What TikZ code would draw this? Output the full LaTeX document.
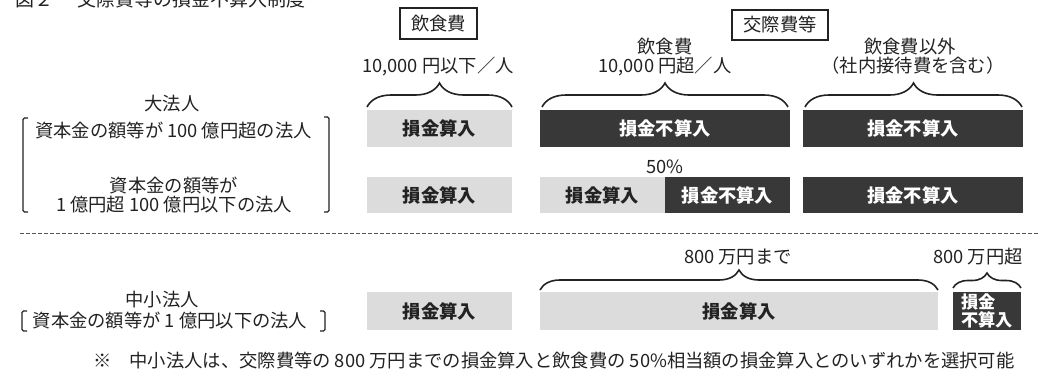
\documentclass[tikz,border=0pt]{standalone}
\usepackage{fontspec}
\setmainfont{Noto Sans CJK JP}
\usetikzlibrary{decorations.pathreplacing}
\definecolor{ink}{HTML}{222222}
\definecolor{lightfill}{HTML}{DCDCDC}
\definecolor{darkfill}{HTML}{383838}
\definecolor{dashgray}{HTML}{555555}
\newcommand{\jpsz}[1]{\fontsize{#1}{#1}\selectfont}
\begin{document}
\begin{tikzpicture}[x=1pt,y=-1pt,
  every node/.style={inner sep=0pt,outer sep=0pt,text=ink,font=\jpsz{18.3}},
  hdrbox/.style={draw=ink,line width=1.2pt},
  cell/.style={font=\jpsz{18.3}\bfseries},
  lightcell/.style={cell,fill=lightfill,text=ink},
  darkcell/.style={cell,fill=darkfill,text=white},
  curly/.style={decorate,decoration={brace,amplitude=#1},line width=1.6pt,draw=ink},
  bracketline/.style={draw=ink,line width=1.3pt,rounded corners=1.5pt},
  sepline/.style={draw=dashgray,line width=0.9pt,dash pattern=on 3.5pt off 2.5pt}]

\useasboundingbox (0,0) rectangle (1044,380);

% title
\node[anchor=base west,font=\jpsz{19}] (fig) at (15,6) {図２};
\node[anchor=base west,font=\jpsz{19}] (title) at (77,6) {交際費等の損金不算入制度};

% header boxes
\node[hdrbox,minimum width=77pt,minimum height=31pt] (h1) at (438.5,23.5) {飲食費};
\node[hdrbox,minimum width=96pt,minimum height=30pt] (h2) at (780,25) {交際費等};

% column labels
\node (c1) at (438,66) {10,000 円以下／人};
\node (c2a) at (665,47) {飲食費};
\node (c2b) at (665,66) {10,000 円超／人};
\node (c3a) at (910,47) {飲食費以外};
\node (c3b) at (913,66) {（社内接待費を含む）};

% row 1
\node[lightcell,minimum width=145pt,minimum height=37pt] (r1a) at (439.5,128.5) {損金算入};
\node[darkcell,minimum width=250pt,minimum height=37pt] (r1b) at (665,128.5) {損金不算入};
\node[darkcell,minimum width=220pt,minimum height=37pt] (r1c) at (913,128.5) {損金不算入};

% row 2
\node[lightcell,minimum width=145pt,minimum height=36pt] (r2a) at (439.5,195) {損金算入};
\node[lightcell,minimum width=125pt,minimum height=36pt] (r2b) at (602.5,195) {損金算入};
\node[darkcell,minimum width=125pt,minimum height=36pt] (r2c) at (727.5,195) {損金不算入};
\node[darkcell,minimum width=220pt,minimum height=36pt] (r2d) at (913,195) {損金不算入};
\node (pct) at (665,167) {50\%};

% row 3
\node[lightcell,minimum width=145pt,minimum height=38pt] (r3a) at (439.5,311) {損金算入};
\node[lightcell,minimum width=398pt,minimum height=38pt] (r3b) at (739,311) {損金算入};
\node[darkcell,minimum width=68pt,minimum height=38pt,font=\jpsz{17.2}\bfseries,align=left] (r3c) at (987,311) {損金\\不算入};
\node (lim1) at (738,257) {800 万円まで};
\node (lim2) at (978,257) {800 万円超};

% braces
\draw[curly=24] ([yshift=3pt]r1a.north west) -- ([yshift=3pt]r1a.north east);
\draw[curly=24] ([xshift=2pt,yshift=3pt]r1b.north west) -- ([xshift=-2pt,yshift=3pt]r1b.north east);
\draw[curly=24] ([xshift=2pt,yshift=3pt]r1c.north west) -- ([xshift=-1pt,yshift=3pt]r1c.north east);
\draw[curly=20] ([yshift=2pt]r3b.north west) -- ([yshift=2pt]r3b.north east);
\draw[curly=15] ([yshift=4pt]r3c.north west) -- ([yshift=4pt]r3c.north east);

% left labels
\node (big) at (172,104) {大法人};
\node (big1) at (173.5,131) {資本金の額等が 100 億円超の法人};
\node (big2a) at (174,185.5) {資本金の額等が};
\node (big2b) at (174,205) {1 億円超 100 億円以下の法人};
\draw[bracketline] (28,118) -- (23,118) -- (23,212) -- (28,212);
\draw[bracketline] (324,117) -- (329,117) -- (329,212) -- (324,212);

\node (sme) at (162,300) {中小法人};
\node (sme1) at (170,321) {資本金の額等が 1 億円以下の法人};
\draw[bracketline] (27,311) -- (22,311) -- (22,331) -- (27,331);
\draw[bracketline] (320,311) -- (325,311) -- (325,331) -- (320,331);

% separator
\draw[sepline] (20,233) -- (1038,233);

% footnote
\node[anchor=west] (note) at (93,361) {※　中小法人は、交際費等の 800 万円までの損金算入と飲食費の 50\%相当額の損金算入とのいずれかを選択可能};
\end{tikzpicture}
\end{document}
